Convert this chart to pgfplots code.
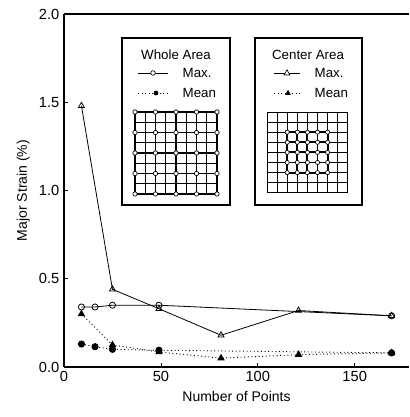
\documentclass[border=0pt]{standalone}
\usepackage{pgfplots}
\pgfplotsset{compat=1.18}
\usepackage{fontspec}
\setmainfont{Liberation Sans}
\begin{document}
\begin{tikzpicture}
\begin{scope}[x=0.75pt, y=-0.75pt, shift={(-48pt,275.25pt)}]
 \useasboundingbox (0,0) rectangle (409,417);
\end{scope}
\begin{axis}[
  scale only axis,
  width=258.75pt, height=264.75pt,
  xmin=0, xmax=178, ymin=0, ymax=2,
  axis x line*=box, axis y line*=left,
  axis line style={line width=1pt},
  xtick={0,50,100,150}, ytick={0,0.5,1,1.5,2},
  tick align=inside, major tick length=3pt,
  tick style={line width=0.5pt,black},
  xtick pos=bottom, ytick pos=left,
  /pgf/number format/assume math mode=true,
  yticklabel style={/pgf/number format/fixed,/pgf/number format/fixed zerofill,/pgf/number format/precision=1},
  ticklabel style={font=\fontsize{11}{13}\selectfont},
  label style={font=\fontsize{10.5}{12}\selectfont},
  xlabel={Number of Points},
  ylabel={Major Strain (\%)},
  clip=false,
]
% Whole area max
\addplot[black, line width=0.6pt, mark=o, mark size=2.3pt, mark options={solid,fill=white}]
 coordinates {(9,0.34) (16,0.34) (25,0.35) (49,0.35) (169,0.29)};
% Center area max
\addplot[black, line width=0.6pt, mark=triangle, mark size=2.6pt, mark options={solid,fill=white}]
 coordinates {(9,1.48) (25,0.44) (49,0.33) (81,0.18) (121,0.32) (169,0.29)};
% Whole area mean
\addplot[black, line width=0.7pt, dotted, mark=*, mark size=2.3pt, mark options={solid}]
 coordinates {(9,0.13) (16,0.115) (25,0.10) (49,0.095) (169,0.08)};
% Center area mean
\addplot[black, line width=0.7pt, dotted, mark=triangle*, mark size=2.6pt, mark options={solid}]
 coordinates {(9,0.30) (25,0.125) (49,0.085) (81,0.05) (121,0.07) (169,0.08)};
\end{axis}
\begin{scope}[x=0.75pt, y=-0.75pt, shift={(-48pt,275.25pt)}, font=\fontsize{10}{12}\selectfont]
 % box 1
 \draw[fill=white, line width=0.8pt] (122,38) rectangle (230,205);
 \node at (176,55) {Whole Area};
 \draw[line width=0.5pt] (138,73) -- (168,73);
 \draw[fill=white, line width=0.5pt] (153,73) circle (2.3);
 \node[anchor=west] at (178,73) {Max.};
 \draw[line width=0.7pt, dotted] (138,93) -- (168,93);
 \fill (156,93) circle (2.4);
 \node[anchor=west] at (178,93) {Mean};
 % grid 1
 \foreach \i in {0,...,8} {
   \draw[line width=0.4pt] ({135+\i*10.25},112) -- ({135+\i*10.25},194);
   \draw[line width=0.4pt] (135,{112+\i*10.25}) -- (217,{112+\i*10.25});
 }
 \foreach \i in {0,...,4} {
   \draw[line width=1.4pt] ({135+\i*20.5},112) -- ({135+\i*20.5},194);
   \draw[line width=1.4pt] (135,{112+\i*20.5}) -- (217,{112+\i*20.5});
 }
 \foreach \i in {0,...,4} \foreach \j in {0,...,4}
   \draw[fill=white, line width=0.5pt] ({135+\i*20.5},{112+\j*20.5}) circle (2.2);
 % box 2
 \draw[fill=white, line width=0.8pt] (255,38) rectangle (362,205);
 \node at (308,55) {Center Area};
 \draw[line width=0.5pt] (274,73) -- (300,73);
 \draw[fill=white, line width=0.5pt] (287,69.8) -- (289.9,75) -- (284.1,75) -- cycle;
 \node[anchor=west] at (310,73) {Max.};
 \draw[line width=0.7pt, dotted] (274,93) -- (300,93);
 \fill (288,89.8) -- (290.9,95) -- (285.1,95) -- cycle;
 \node[anchor=west] at (310,93) {Mean};
 % grid 2
 \foreach \i in {0,...,8} {
   \draw[line width=0.5pt] ({267+\i*10.1},112) -- ({267+\i*10.1},193);
   \draw[line width=0.5pt] (267,{112+\i*10.1}) -- (348,{112+\i*10.1});
 }
 \foreach \i in {2,...,6} {
   \draw[line width=1.4pt] ({267+\i*10.1},{112+2*10.1}) -- ({267+\i*10.1},{112+6*10.1});
   \draw[line width=1.4pt] ({267+2*10.1},{112+\i*10.1}) -- ({267+6*10.1},{112+\i*10.1});
 }
 \foreach \i in {2,...,6} \foreach \j in {2,...,6}
   \draw[fill=white, line width=0.5pt] ({267+\i*10.1},{112+\j*10.1}) circle (2.1);
\end{scope}
\end{tikzpicture}
\end{document}
